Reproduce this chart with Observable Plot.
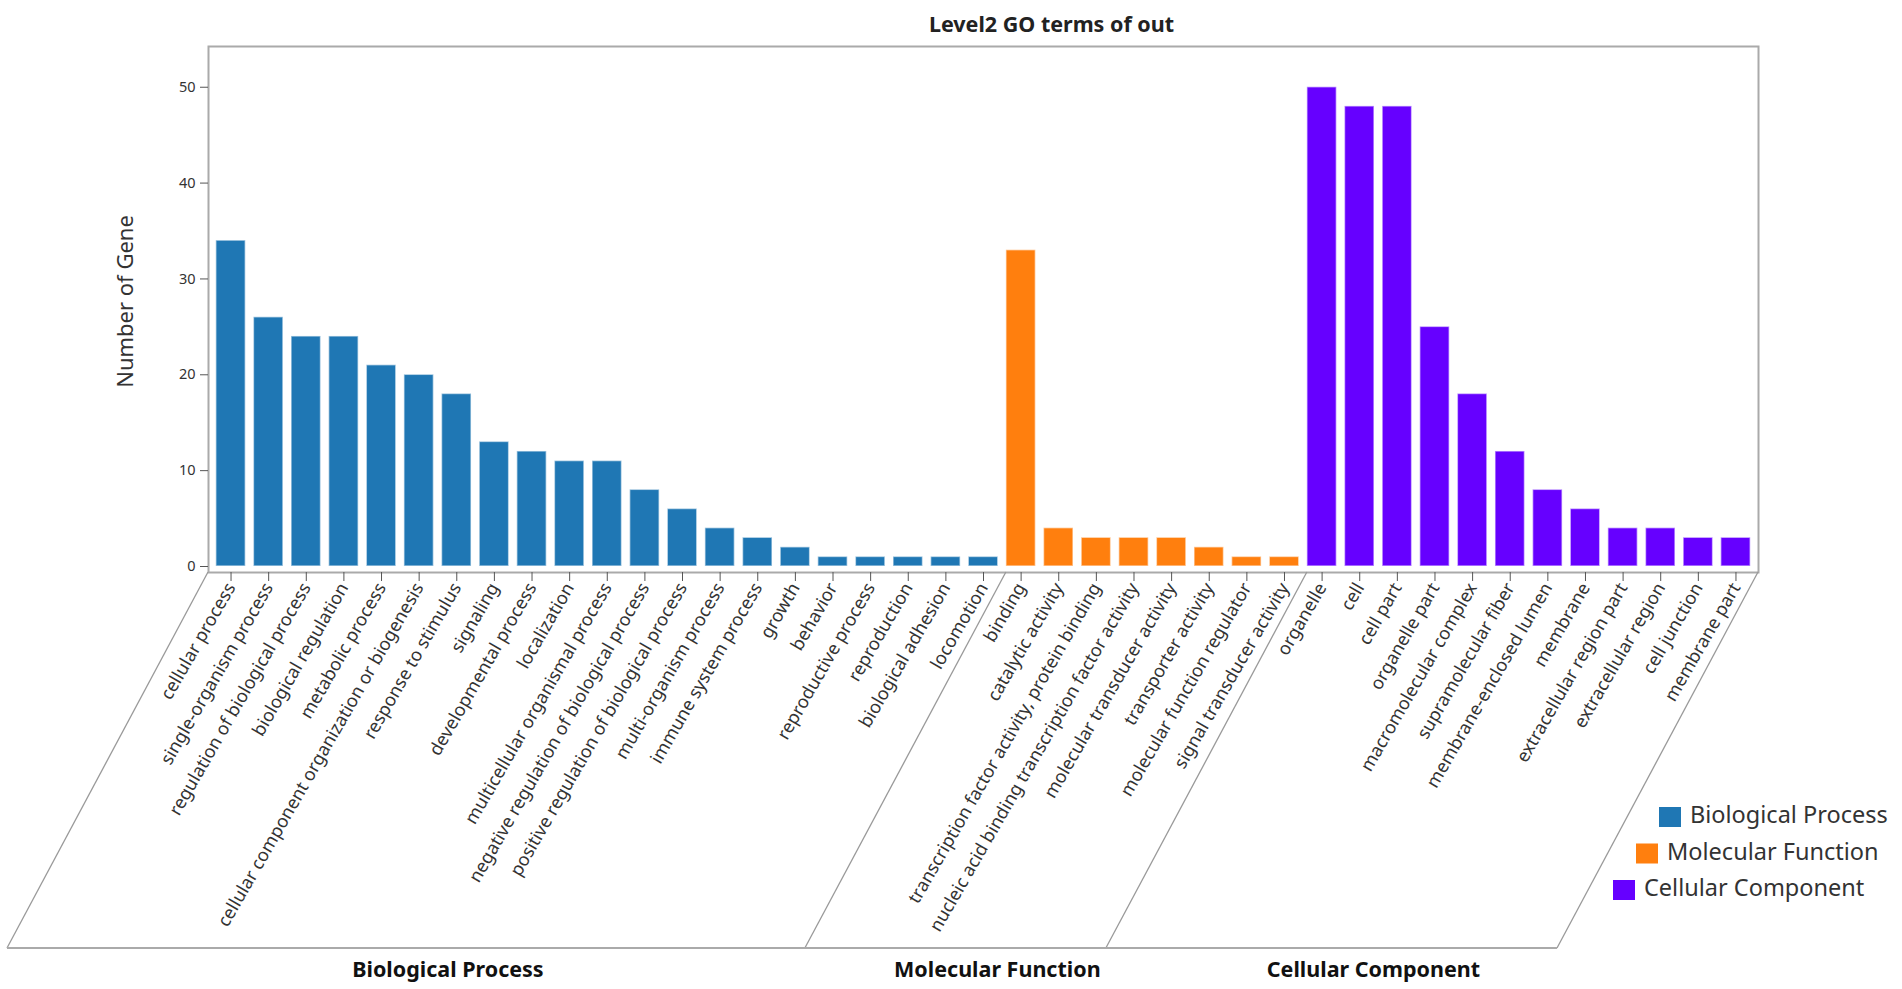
<!DOCTYPE html>
<html><head><meta charset="utf-8">
<script src="https://cdn.jsdelivr.net/npm/d3@7"></script>
<script src="https://cdn.jsdelivr.net/npm/@observablehq/plot@0.6"></script>
<style>html,body{margin:0;padding:0;background:#fff;overflow:hidden} svg{display:block}</style>
</head><body><div id="chart"></div>
<script>
// ---- data ----
const groups = ["Biological Process", "Molecular Function", "Cellular Component"];
const groupColors = ["#1f77b4", "#ff7f0e", "#6600ff"];

const bpTerms = ["cellular process", "single-organism process", "regulation of biological process", "biological regulation", "metabolic process", "cellular component organization or biogenesis", "response to stimulus", "signaling", "developmental process", "localization", "multicellular organismal process", "negative regulation of biological process", "positive regulation of biological process", "multi-organism process", "immune system process", "growth", "behavior", "reproductive process", "reproduction", "biological adhesion", "locomotion"];
const bpCounts = [34, 26, 24, 24, 21, 20, 18, 13, 12, 11, 11, 8, 6, 4, 3, 2, 1, 1, 1, 1, 1];

const mfTerms = ["binding", "catalytic activity", "transcription factor activity, protein binding", "nucleic acid binding transcription factor activity", "molecular transducer activity", "transporter activity", "molecular function regulator", "signal transducer activity"];
const mfCounts = [33, 4, 3, 3, 3, 2, 1, 1];

const ccTerms = ["organelle", "cell", "cell part", "organelle part", "macromolecular complex", "supramolecular fiber", "membrane-enclosed lumen", "membrane", "extracellular region part", "extracellular region", "cell junction", "membrane part"];
const ccCounts = [50, 48, 48, 25, 18, 12, 8, 6, 4, 4, 3, 3];

const yTicks = [0, 10, 20, 30, 40, 50];
const title = "Level2 GO terms of out";
const yLabel = "Number of Gene";

// ---- build table ----
const termLists = [bpTerms, mfTerms, ccTerms];
const countLists = [bpCounts, mfCounts, ccCounts];
const data = [];
termLists.forEach((terms, gi) => terms.forEach((t, i) => data.push({term: t, count: countLists[gi][i], group: groups[gi]})));
const allTerms = data.map(d => d.term);

const FONT = "'Noto Sans', 'Open Sans', sans-serif";
const W = 1902, H = 989;
const mL = 208, mR = 144, mT = 46, mB = 417;

const plot = Plot.plot({
  width: W, height: H,
  marginLeft: mL, marginRight: mR, marginTop: mT, marginBottom: mB,
  style: {fontFamily: FONT, background: "white", color: "#333", overflow: "visible"},
  x: {domain: allTerms, paddingInner: 0.216, paddingOuter: 0.207, round: false, label: null, axis: null},
  y: {domain: [0, 54.25], insetBottom: 6, label: null, axis: null},
  color: {domain: groups, range: groupColors},
  marks: [
    Plot.barY(data, {x: "term", y: "count", fill: "group", stroke: "white", strokeOpacity: 0.55, strokeWidth: 1.5}),
    Plot.frame({stroke: "#aaa", strokeWidth: 2}),
    Plot.axisY({ticks: yTicks, tickSize: 8, tickPadding: 5, fontSize: 14.5, label: null, tickFormat: d => d, stroke: "#555"}),
    Plot.axisX({tickSize: 9, tickPadding: 3, tickRotate: -60, fontSize: 18, label: null, stroke: "#555"}),
    Plot.text([yLabel], {text: d => d, frameAnchor: "left", textAnchor: "middle", dx: -83, dy: -8, rotate: -90, fontSize: 22, fill: "#333"}),
    Plot.text([title], {text: d => d, frameAnchor: "top", dy: -30, dx: 68, fontSize: 21.5, fontWeight: "bold", fill: "#222"})
  ]
});
document.getElementById("chart").appendChild(plot);

// ---- slanted floor with group labels (positions from the x scale) ----
const xs = plot.scale("x");
const cs = plot.scale("color");
const svg = d3.select(plot);
const frameL = mL, frameR = W - mR, frameB = H - mB;
const depth = 376, shift = -201;
const bounds = [frameL, xs.apply(mfTerms[0]), xs.apply(ccTerms[0]), frameR];
const g = svg.append("g").attr("fill", "none").attr("stroke", "#999");
bounds.forEach(bx => g.append("line").attr("x1", bx).attr("y1", frameB).attr("x2", bx + shift).attr("y2", frameB + depth).attr("stroke-width", 1.3));
g.append("line").attr("x1", bounds[0] + shift).attr("x2", bounds[3] + shift).attr("y1", frameB + depth).attr("y2", frameB + depth).attr("stroke-width", 2).attr("stroke", "#aaa");
groups.forEach((name, i) => {
  const cx = (bounds[i] + bounds[i + 1]) / 2 + shift + 42;
  svg.append("text").attr("x", cx).attr("y", frameB + depth + 23).attr("text-anchor", "middle")
    .attr("dominant-baseline", "middle").attr("font-family", FONT).attr("font-size", 21.5).attr("font-weight", "bold")
    .attr("fill", "#111").text(name);
});

// ---- legend ----
const leg = svg.append("g").attr("text-anchor", "start");
cs.domain.forEach((name, i) => {
  const x0 = 1659 - i * 23, yc = 817 + i * 36.5;
  leg.append("rect").attr("x", x0).attr("y", yc - 10).attr("width", 22).attr("height", 20).attr("fill", cs.apply(name));
  leg.append("text").attr("x", x0 + 31).attr("y", yc).attr("dominant-baseline", "middle").attr("text-anchor", "start")
    .attr("font-family", FONT).attr("font-size", 23.5).attr("fill", "#333").text(name);
});
</script></body></html>
